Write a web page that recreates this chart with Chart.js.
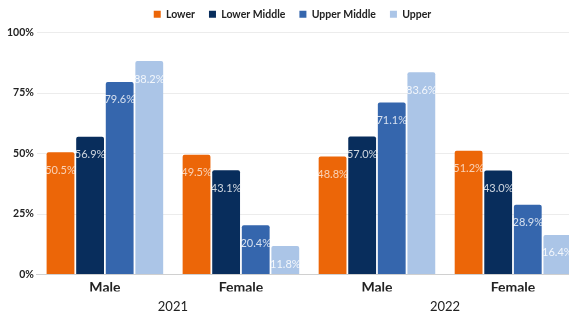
<!DOCTYPE html>
<html>
<head>
<meta charset="utf-8">
<script src="https://cdn.jsdelivr.net/npm/chart.js@4/dist/chart.umd.min.js"></script>
<style>
    html, body { margin: 0; padding: 0; background: #fff; overflow: hidden; }
    #wrap { width: 590px; height: 322px; margin-top: -7px; position: relative; }
</style>
</head>
<body>
<div id="wrap"><canvas id="incomeChart"></canvas></div>
<script>
const categories = ['Male', 'Female', 'Male', 'Female'];
const years = ['2021', '2022'];
const seriesNames = ['Lower', 'Lower Middle', 'Upper Middle', 'Upper'];
const lower = [50.5, 49.5, 48.8, 51.2];
const lowerMiddle = [56.9, 43.1, 57.0, 43.0];
const upperMiddle = [79.6, 20.4, 71.1, 28.9];
const upper = [88.2, 11.8, 83.6, 16.4];
const yTicks = [0, 25, 50, 75, 100];

const colors = ['#ec6608', '#082d5c', '#3566ad', '#abc5e7'];
const labelColors = ['rgba(255,255,255,0.7)', 'rgba(255,255,255,0.8)', 'rgba(255,255,255,0.8)', 'rgba(255,255,255,0.85)'];

Chart.defaults.font.family = 'Lato, "Open Sans", sans-serif';
Chart.defaults.color = '#222';

// draws the value inside the top of each bar
const barLabels = {
    id: 'barLabels',
    afterDatasetsDraw(chart) {
        const ctx = chart.ctx;
        ctx.save();
        ctx.font = '11px Lato, sans-serif';
        ctx.textAlign = 'center';
        ctx.textBaseline = 'middle';
        chart.data.datasets.forEach((ds, i) => {
            const meta = chart.getDatasetMeta(i);
            meta.data.forEach((bar, j) => {
                ctx.fillStyle = labelColors[i];
                ctx.fillText(ds.data[j].toFixed(1) + '%', bar.x, bar.y + 18);
            });
        });
        ctx.restore();
    }
};

// a little more room under the legend
const legendGap = {
    id: 'legendGap',
    beforeInit(chart) {
        const fit = chart.legend.fit;
        chart.legend.fit = function () {
            fit.bind(chart.legend)();
            this.height += 3;
        };
    }
};

const seriesData = [lower, lowerMiddle, upperMiddle, upper];

new Chart(document.getElementById('incomeChart'), {
    type: 'bar',
    data: {
        labels: categories,
        datasets: seriesNames.map((name, i) => ({
            label: name,
            data: seriesData[i],
            backgroundColor: colors[i],
            borderRadius: { topLeft: 2, topRight: 2 },
            borderSkipped: 'bottom',
            barPercentage: 0.94,
            categoryPercentage: 0.87
        }))
    },
    options: {
        responsive: true,
        maintainAspectRatio: false,
        animation: false,
        layout: { padding: { left: 4, right: 9, top: 2, bottom: 0 } },
        plugins: {
            legend: {
                position: 'top',
                labels: {
                    boxWidth: 7,
                    boxHeight: 7,
                    padding: 14,
                    color: '#222',
                    font: { size: 10.5, weight: 'bold' }
                }
            },
            tooltip: { enabled: false }
        },
        scales: {
            x: {
                grid: { display: false },
                border: { color: '#d0d0d0' },
                ticks: { color: '#222', font: { size: 14, weight: 'bold' }, padding: -4 }
            },
            x2: {
                type: 'category',
                labels: years,
                position: 'bottom',
                offset: true,
                grid: { display: false },
                border: { display: false },
                ticks: { color: '#222', font: { size: 13 }, padding: 0 }
            },
            y: {
                min: 0,
                max: 100,
                afterBuildTicks: axis => { axis.ticks = yTicks.map(v => ({ value: v })); },
                grid: { color: '#ececec', drawTicks: false },
                border: { display: false },
                ticks: {
                    color: '#222',
                    padding: 3,
                    font: { size: 10.5, weight: 'bold' },
                    callback: v => v + '%'
                }
            }
        }
    },
    plugins: [barLabels, legendGap]
});
</script>
</body>
</html>
